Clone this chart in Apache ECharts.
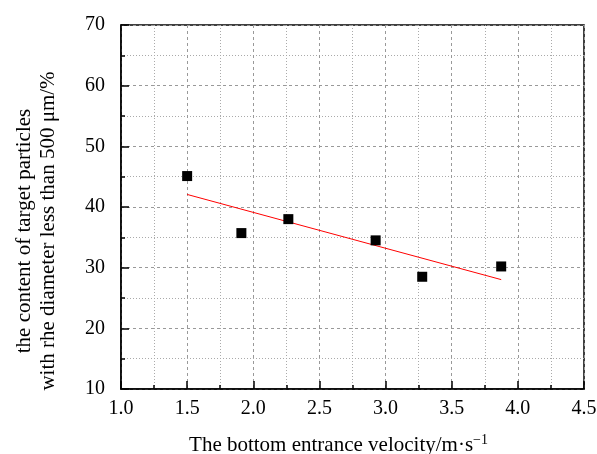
<!DOCTYPE html>
<html>
<head>
<meta charset="utf-8">
<script src="https://cdn.jsdelivr.net/npm/echarts@6/dist/echarts.min.js"></script>
<style>
    html, body { margin: 0; padding: 0; background: #fff; }
    #main { width: 597px; height: 454px; }
</style>
</head>
<body>
<div id="main"></div>
<script>
// measured points
var velocity = [1.5, 1.91, 2.265, 2.925, 3.277, 3.874];
var content = [45.1, 35.7, 38.0, 34.5, 28.5, 30.2];
// linear fit line ends
var fitX = [1.5, 3.874];
var fitY = [42.07, 28.03];

var pts = [], fit = [];
for (var i = 0; i < velocity.length; i++) {
    pts.push([velocity[i], content[i]]);
}
for (var j = 0; j < fitX.length; j++) {
    fit.push([fitX[j], fitY[j]]);
}

var myChart = echarts.init(document.getElementById('main'));
var font = 'Liberation Serif';

option = {
    animation: false,
    textStyle: { fontFamily: font },
    grid: {
        left: 121,
        right: 13,
        top: 25,
        bottom: 65,
        outerBoundsMode: 'none',
        show: true,
        borderColor: '#000',
        borderWidth: 1.5
    },
    xAxis: {
        type: 'value',
        min: 1.0,
        max: 4.5,
        interval: 0.5,
        minorTick: { show: true, splitNumber: 2, length: 4, lineStyle: { color: '#000', width: 1.5 } },
        axisTick: { inside: true, length: 8, lineStyle: { color: '#000', width: 1.5 } },
        axisLine: { lineStyle: { color: '#000', width: 1.5 } },
        axisLabel: {
            color: '#000', fontSize: 20, fontFamily: font, margin: 10,
            formatter: function (v) { return v.toFixed(1); }
        },
        splitLine: { show: true, lineStyle: { color: '#999', type: [3, 3], width: 1 } },
        minorSplitLine: { show: true, lineStyle: { color: '#aaa', type: [1, 2], width: 1 } },
        name: 'The bottom entrance velocity/m·s{sup|−1}',
        nameLocation: 'middle',
        nameGap: 44,
        nameTextStyle: {
            color: '#000', fontSize: 21, fontFamily: font,
            padding: [0, 28, 0, 0],
            rich: { sup: { fontSize: 14, verticalAlign: 'top', padding: [0, 0, 10, 0], fontFamily: font, color: '#000' } }
        }
    },
    yAxis: {
        type: 'value',
        min: 10,
        max: 70,
        interval: 10,
        minorTick: { show: true, splitNumber: 2, length: 4, lineStyle: { color: '#000', width: 1.5 } },
        axisTick: { inside: true, length: 8, lineStyle: { color: '#000', width: 1.5 } },
        axisLine: { show: true, lineStyle: { color: '#000', width: 1.5 } },
        axisLabel: { color: '#000', fontSize: 20, fontFamily: font, margin: 16 },
        splitLine: { show: true, lineStyle: { color: '#999', type: [3, 3], width: 1 } },
        minorSplitLine: { show: true, lineStyle: { color: '#aaa', type: [1, 2], width: 1 } },
        name: 'the content of target particles\nwith rhe diameter less than 500 μm/%',
        nameLocation: 'middle',
        nameGap: 61,
        nameTextStyle: { color: '#000', fontSize: 21, fontFamily: font, lineHeight: 24, padding: [0, 48, 0, 0] }
    },
    series: [
        {
            name: 'fit',
            type: 'line',
            data: fit,
            symbol: 'none',
            lineStyle: { color: '#ff0000', width: 1 },
            z: 2
        },
        {
            name: 'data',
            type: 'scatter',
            data: pts,
            symbol: 'rect',
            symbolSize: 10,
            itemStyle: { color: '#000', opacity: 1 },
            z: 3
        }
    ]
};
myChart.setOption(option);
</script>
</body>
</html>
